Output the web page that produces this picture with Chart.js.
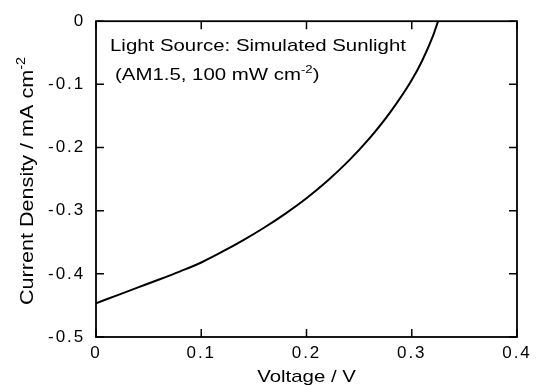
<!DOCTYPE html>
<html>
<head>
<meta charset="utf-8">
<script src="https://cdn.jsdelivr.net/npm/chart.js@4.4.1/dist/chart.umd.min.js"></script>
<style>
  html, body { margin: 0; padding: 0; background: #fff; }
  #wrap { width: 537px; height: 385px; }
</style>
</head>
<body>
<div id="wrap"><canvas id="c" width="537" height="385"></canvas></div>
<script>
// ---- data ----
const voltage = [0, 0.02, 0.04, 0.06, 0.08, 0.10, 0.12, 0.14, 0.16, 0.18, 0.20, 0.22, 0.24, 0.26, 0.28, 0.30, 0.31, 0.32, 0.325];
const currentDensity = [-0.4465, -0.434, -0.4215, -0.409, -0.396, -0.382, -0.365, -0.3466, -0.3266, -0.3046, -0.2802, -0.2526, -0.2212, -0.1852, -0.1432, -0.0932, -0.0622, -0.0242, 0];
const xTickValues = [0, 0.1, 0.2, 0.3, 0.4];
const yTickValues = [0, -0.1, -0.2, -0.3, -0.4, -0.5];
const xTitle = 'Voltage / V';
const yTitle = 'Current Density / mA cm';
const yTitleSup = '-2';
const noteLine1 = 'Light Source: Simulated Sunlight';
const noteLine2a = '(AM1.5, 100 mW cm';
const noteLine2sup = '-2';
const noteLine2b = ')';

const FONT = '"Liberation Sans", Arial, Helvetica, sans-serif';
const WIDE = 1.2; // the reference font is drawn wider along its text direction
const points = voltage.map((v, i) => ({ x: v, y: currentDensity[i] }));

function wideText(ctx, str, x, y, size) {
  ctx.save();
  ctx.font = size + 'px ' + FONT;
  ctx.translate(x, y);
  ctx.scale(WIDE, 1);
  ctx.textAlign = 'left';
  ctx.fillText(str, 0, 0);
  const w = ctx.measureText(str).width * WIDE;
  ctx.restore();
  return w;
}
function wideWidth(ctx, str, size) {
  ctx.save();
  ctx.font = size + 'px ' + FONT;
  const w = ctx.measureText(str).width * WIDE;
  ctx.restore();
  return w;
}

const frameAndText = {
  id: 'frameAndText',
  beforeDraw(chart) { chart.ctx.letterSpacing = '1.9px'; },
  beforeDatasetsDraw(chart) { chart.ctx.letterSpacing = '0px'; },
  afterDatasetsDraw(chart) {
    const { ctx, chartArea: a, scales: { x, y } } = chart;
    ctx.save();
    ctx.letterSpacing = '0px';
    ctx.strokeStyle = '#000';
    ctx.lineWidth = 1.8;
    ctx.strokeRect(a.left, a.top, a.right - a.left, a.bottom - a.top);
    const L = 8;
    ctx.lineWidth = 1.5;
    ctx.beginPath();
    xTickValues.forEach(v => {
      const px = x.getPixelForValue(v);
      ctx.moveTo(px, a.bottom); ctx.lineTo(px, a.bottom - L);
      ctx.moveTo(px, a.top); ctx.lineTo(px, a.top + L);
    });
    yTickValues.forEach(v => {
      const py = y.getPixelForValue(v);
      ctx.moveTo(a.left, py); ctx.lineTo(a.left + L, py);
      ctx.moveTo(a.right, py); ctx.lineTo(a.right - L, py);
    });
    ctx.stroke();

    ctx.fillStyle = '#000';
    ctx.textBaseline = 'alphabetic';
    // annotation
    wideText(ctx, noteLine1, a.left + 14, a.top + 30, 17);
    let xx = a.left + 19;
    const by = a.top + 59;
    xx += wideText(ctx, noteLine2a, xx, by, 17);
    xx += wideText(ctx, noteLine2sup, xx, by - 7, 11);
    wideText(ctx, noteLine2b, xx, by, 17);

    // x title
    const wx = wideWidth(ctx, xTitle, 17);
    wideText(ctx, xTitle, (a.left + a.right) / 2 - wx / 2, 382, 17);

    // y title (rotated)
    const w1 = wideWidth(ctx, yTitle, 18);
    const w2 = wideWidth(ctx, yTitleSup, 12);
    ctx.save();
    ctx.translate(33, 57 + w1 + w2);
    ctx.rotate(-Math.PI / 2);
    wideText(ctx, yTitle, 0, 0, 18);
    wideText(ctx, yTitleSup, w1, -8, 12);
    ctx.restore();
    ctx.restore();
  }
};

new Chart(document.getElementById('c'), {
  type: 'line',
  data: {
    datasets: [{
      data: points,
      borderColor: '#000',
      borderWidth: 2,
      pointRadius: 0,
      fill: false,
      cubicInterpolationMode: 'monotone'
    }]
  },
  options: {
    responsive: false,
    animation: false,
    events: [],
    layout: { padding: { top: 19, right: 20, left: 0, bottom: 0 } },
    plugins: { legend: { display: false }, tooltip: { enabled: false } },
    scales: {
      x: {
        type: 'linear', min: 0, max: 0.4,
        grid: { display: false, drawTicks: false },
        border: { display: false },
        afterFit: s => { s.height = 48; },
        afterBuildTicks: s => { s.ticks = xTickValues.map(v => ({ value: v })); },
        ticks: {
          color: '#000', padding: 6, maxRotation: 0,
          font: { family: FONT, size: 17 },
          callback: v => String(Math.round(v * 10) / 10)
        }
      },
      y: {
        type: 'linear', min: -0.5, max: 0,
        grid: { display: false, drawTicks: false },
        border: { display: false },
        afterFit: s => { s.width = 96; },
        afterBuildTicks: s => { s.ticks = yTickValues.map(v => ({ value: v })); },
        ticks: {
          color: '#000', padding: 11,
          font: { family: FONT, size: 17 },
          callback: v => String(Math.round(v * 10) / 10)
        }
      }
    }
  },
  plugins: [frameAndText]
});
</script>
</body>
</html>
